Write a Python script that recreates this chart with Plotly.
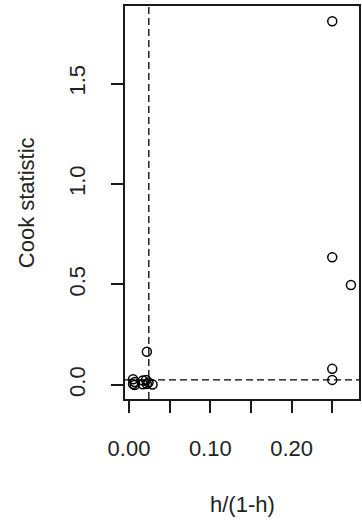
import plotly.graph_objects as go

# Leverage ratio h/(1-h) and Cook statistic for each observation
h_ratio = [0.005, 0.005, 0.007, 0.007, 0.017, 0.017, 0.021, 0.022, 0.024, 0.029,
           0.022, 0.250, 0.250, 0.273, 0.250, 0.250]
cook = [0.028, 0.005, 0.015, 0.000, 0.022, 0.003, 0.025, 0.005, 0.012, 0.002,
        0.165, 1.810, 0.635, 0.497, 0.080, 0.025]

# Reference cut-offs drawn as dashed lines
h_cutoff = 0.0244
cook_cutoff = 0.025

x_ticks = [0.00, 0.05, 0.10, 0.15, 0.20, 0.25]
x_tick_text = ["0.00", "", "0.10", "", "0.20", ""]
y_ticks = [0.0, 0.5, 1.0, 1.5]
y_tick_text = ["0.0", "0.5", "1.0", "1.5"]

FONT = "Liberation Sans, Arial, sans-serif"
INK = "#1a1a1a"

fig = go.Figure()

fig.add_trace(go.Scatter(
    x=h_ratio, y=cook, mode="markers",
    marker=dict(symbol="circle-open", size=9, color="black", line=dict(width=1.5)),
    showlegend=False, hoverinfo="x+y",
))

fig.add_vline(x=h_cutoff, line=dict(color="black", width=1.3, dash="7px,4px"))
fig.add_hline(y=cook_cutoff, line=dict(color="black", width=1.3, dash="7px,4px"))

axis_common = dict(
    showgrid=False, zeroline=False, showline=True, linecolor=INK, linewidth=1.5,
    mirror=True, ticks="outside", ticklen=12, tickwidth=1.5, tickcolor=INK,
    tickfont=dict(family=FONT, size=22, color="#222"),
)

fig.update_xaxes(range=[-0.0049, 0.2829], tickmode="array",
                 tickvals=x_ticks, ticktext=x_tick_text,
                 ticklabelstandoff=17, **axis_common)
fig.update_yaxes(range=[-0.07, 1.886], tickmode="array",
                 tickvals=y_ticks, ticktext=y_tick_text, tickangle=-90,
                 ticklabelstandoff=17, **axis_common)

fig.add_annotation(text="h/(1-h)", xref="paper", yref="paper", x=0.5, y=-0.269,
                   showarrow=False, xanchor="center", yanchor="middle",
                   font=dict(family=FONT, size=22, color="#222"))
fig.add_annotation(text="Cook statistic", xref="paper", yref="paper", x=-0.42, y=0.5,
                   textangle=-90, showarrow=False, xanchor="center", yanchor="middle",
                   font=dict(family=FONT, size=22, color="#222"))

fig.update_layout(
    width=362, height=522,
    margin=dict(l=125, r=1, t=6, b=123),
    paper_bgcolor="white", plot_bgcolor="white",
)

fig.write_html("out.html")
